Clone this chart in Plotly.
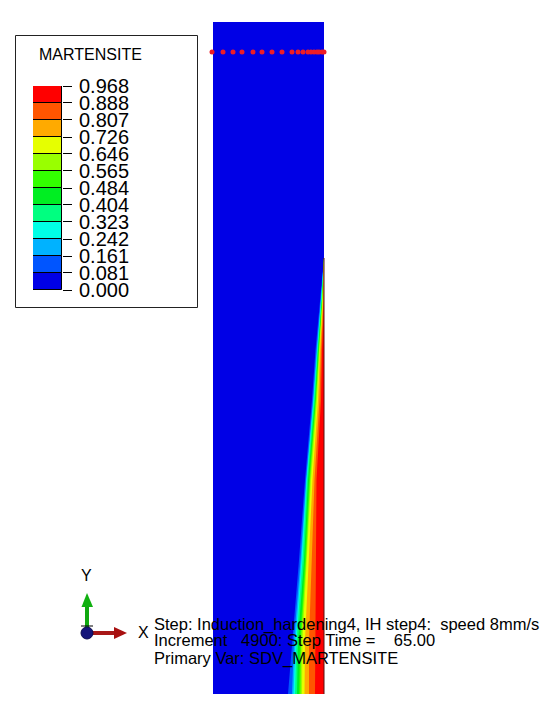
import plotly.graph_objects as go

W, H = 549, 708
BODY = 8  # the page's default body margin
FIG_W, FIG_H = W - BODY, H - BODY

# --- legend data
tick_labels = ["0.968", "0.888", "0.807", "0.726", "0.646", "0.565", "0.484",
               "0.404", "0.323", "0.242", "0.161", "0.081", "0.000"]
tick_values = [float(t) for t in tick_labels]
band_colors = ["#FF0000", "#FF5500", "#FFAA00", "#E6FF00", "#99FF00", "#33FF00",
               "#00EE22", "#00FF80", "#00FFE6", "#00B2FF", "#0055FF", "#0000E6"]

# --- plate outline
plate_x = [213, 324, 324, 213, 213]
plate_y = [22, 22, 694, 694, 22]

# --- contour band boundaries, lowest band first, read at these heights
stations = [258, 300, 350, 400, 480, 560, 640, 694]
b01 = [324, 320.0, 315.5, 312.0, 305.0, 299.0, 292.0, 288.0]
b02 = [324, 321.0, 316.5, 313.0, 306.0, 300.5, 294.0, 292.0]
b03 = [324, 321.0, 317.0, 313.5, 306.5, 301.5, 295.5, 293.5]
b04 = [324, 321.5, 317.5, 314.0, 307.0, 302.5, 296.5, 295.0]
b05 = [324, 322.0, 318.0, 315.0, 308.0, 304.0, 298.0, 297.0]
b06 = [324, 322.0, 318.5, 315.5, 309.0, 305.0, 300.0, 299.0]
b07 = [324, 322.5, 319.0, 316.0, 310.0, 306.0, 301.0, 300.5]
b08 = [324, 322.5, 319.5, 317.0, 311.0, 307.0, 302.5, 302.0]
b09 = [324, 323.0, 320.0, 318.0, 312.5, 309.0, 305.0, 304.5]
b10 = [324, 323.5, 321.0, 319.5, 314.5, 312.0, 309.0, 309.0]
b11 = [324, 324.0, 322.0, 321.0, 316.5, 316.0, 315.0, 315.0]
boundaries = [b01, b02, b03, b04, b05, b06, b07, b08, b09, b10, b11]
right_edge = [324, 324, 324, 324, 324, 324, 324, 324]

# --- probe path points along the top of the plate
path_x = [212, 223, 233, 242, 253, 262, 272, 282, 292, 298, 303, 308, 311, 314, 317, 319, 322, 324]
path_y = [52] * len(path_x)

# --- text
legend_title = "MARTENSITE"
step_lines = ["Step: Induction_hardening4, IH step4:  speed 8mm/s",
              "Increment   4900: Step Time =    65.00",
              "Primary Var: SDV_MARTENSITE"]


def px(x):
    return (x - BODY) / FIG_W


def py(y):
    return 1 - (y - BODY) / FIG_H


fig = go.Figure()

fig.add_trace(go.Scatter(x=plate_x, y=plate_y, mode="lines", fill="toself",
                         fillcolor=band_colors[-1], line=dict(width=0),
                         hoverinfo="skip", showlegend=False))
for edge, color in zip(boundaries, band_colors[::-1][1:]):
    fig.add_trace(go.Scatter(x=edge + right_edge[::-1], y=stations + stations[::-1],
                             mode="lines", fill="toself", fillcolor=color,
                             line=dict(width=0), hoverinfo="skip", showlegend=False))
fig.add_trace(go.Scatter(x=right_edge, y=stations, mode="lines",
                         line=dict(color="#5a1010", width=1), showlegend=False))
fig.add_trace(go.Scatter(x=path_x, y=path_y, mode="markers", cliponaxis=False,
                         marker=dict(color="#EE1C25", size=5, symbol="circle"),
                         showlegend=False))

# colour legend drawn as a stacked bar on its own axes
lows = tick_values[1:]
tops = tick_values[:-1]
fig.add_trace(go.Bar(x=[0] * len(lows), y=[t - l for t, l in zip(tops, lows)], base=lows,
                     width=1, marker=dict(color=band_colors, line=dict(color="#000000", width=1)),
                     xaxis="x2", yaxis="y2", showlegend=False))

shapes = [
    dict(type="rect", xref="paper", yref="paper", x0=px(15.5), x1=px(197.5), y0=py(307.5), y1=py(35.5),
         line=dict(color="#222222", width=1), layer="below"),
    # triad
    dict(type="line", xref="paper", yref="paper", x0=px(87), x1=px(87), y0=py(628), y1=py(606),
         line=dict(color="#10A810", width=4)),
    dict(type="path", xref="paper", yref="paper",
         path=f"M {px(81.5)} {py(607)} L {px(87)} {py(593)} L {px(93)} {py(607)} Z",
         fillcolor="#10B010", line=dict(width=0)),
    dict(type="line", xref="paper", yref="paper", x0=px(81), x1=px(93), y0=py(626), y1=py(626),
         line=dict(color="#000000", width=1)),
    dict(type="line", xref="paper", yref="paper", x0=px(92), x1=px(116), y0=py(633), y1=py(633),
         line=dict(color="#A81818", width=4)),
    dict(type="path", xref="paper", yref="paper",
         path=f"M {px(114)} {py(627)} L {px(127)} {py(633)} L {px(114)} {py(639)} Z",
         fillcolor="#A81010", line=dict(width=0)),
    dict(type="circle", xref="paper", yref="paper", x0=px(81), x1=px(93), y0=py(639), y1=py(627),
         fillcolor="#14147A", line=dict(color="#0a0a50", width=1)),
]

font = "Liberation Sans, Arial, sans-serif"
annotations = [
    dict(text=legend_title, x=px(37), y=py(54), xref="paper", yref="paper", xanchor="left", yanchor="middle",
         showarrow=False, font=dict(family=font, size=16, color="#000000")),
    dict(text="Y", x=px(86), y=py(575), xref="paper", yref="paper", xanchor="center", yanchor="middle",
         showarrow=False, font=dict(family=font, size=16, color="#000000")),
    dict(text="X", x=px(143), y=py(632), xref="paper", yref="paper", xanchor="center", yanchor="middle",
         showarrow=False, font=dict(family=font, size=16, color="#000000")),
]
for line, y in zip(step_lines, [624, 640, 658]):
    annotations.append(dict(text=line, x=px(152), y=py(y), xref="paper", yref="paper", xanchor="left",
                            yanchor="middle", showarrow=False,
                            font=dict(family=font, size=16.5, color="#000000")))

hidden = dict(visible=False, showgrid=False, zeroline=False, automargin=False)
fig.update_layout(
    width=FIG_W, height=FIG_H, autosize=False,
    margin=dict(l=0, r=0, t=0, b=0),
    paper_bgcolor="#FFFFFF", plot_bgcolor="rgba(0,0,0,0)",
    shapes=shapes, annotations=annotations, bargap=0, barmode="overlay",
    xaxis=dict(domain=[px(205), px(335)], range=[205, 335], **hidden),
    yaxis=dict(domain=[py(694), py(22)], range=[694, 22], **hidden),
    xaxis2=dict(domain=[px(33), px(62)], range=[-0.5, 0.5], anchor="y2", **hidden),
    yaxis2=dict(domain=[py(290), py(86)], range=[0, 0.968], anchor="x2", side="right",
                automargin=False, showgrid=False, zeroline=False, showline=False,
                tickmode="array", tickvals=tick_values, ticktext=tick_labels,
                ticks="outside", ticklen=9, tickcolor="#000000", tickwidth=1,
                ticklabelstandoff=3,
                tickfont=dict(family=font, size=20, color="#000000")),
)

fig.write_html("out.html", config=dict(displayModeBar=False))
